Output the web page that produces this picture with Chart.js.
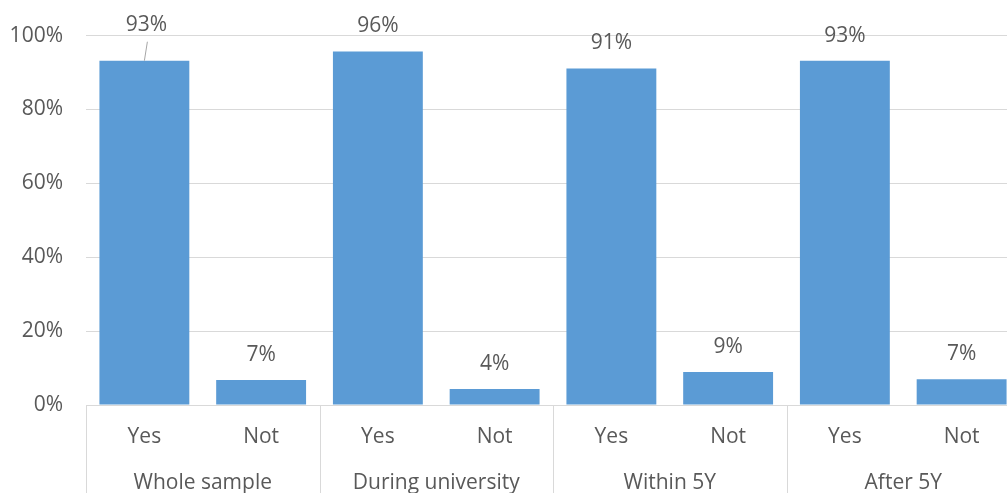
<!DOCTYPE html>
<html>
<head>
<meta charset="utf-8">
<script src="https://cdn.jsdelivr.net/npm/chart.js@4.4.1/dist/chart.umd.min.js"></script>
<style>
  html, body { margin: 0; padding: 0; background: #fff; overflow: hidden; }
  #wrap { width: 1020px; height: 493px; position: relative; }
</style>
</head>
<body>
<div id="wrap"><canvas id="chart"></canvas></div>
<script>
const groups = ['Whole sample', 'During university', 'Within 5Y', 'After 5Y'];
const answers = ['Yes', 'Not'];
const shares = [93.2, 6.8, 95.7, 4.3, 91.1, 8.9, 93.2, 7.0];
const yTicks = [0, 20, 40, 60, 80, 100];

const textColor = '#595959';
const lineColor = '#d9d9d9';
const barColor = '#5b9bd5';
const fontFamily = '"Open Sans", Lato, sans-serif';
const fontSize = 21;

const labels = groups.flatMap(() => answers);

// value labels, separators and group names
const excelDecor = {
    id: 'excelDecor',
    afterDatasetsDraw(chart, args, opts) {
        const { ctx, chartArea, scales } = chart;
        const meta = chart.getDatasetMeta(0);
        ctx.save();
        ctx.font = `${fontSize}px ${fontFamily}`;
        ctx.fillStyle = textColor;
        ctx.textAlign = 'center';
        ctx.textBaseline = 'middle';
        meta.data.forEach((bar, i) => {
            const shift = opts.shifts[i] || { dx: 0, dy: 0 };
            const lx = bar.x + shift.dx;
            const ly = bar.y - 25 + shift.dy;
            ctx.fillText(Math.round(shares[i]) + '%', lx, ly);
            if (shift.dy) {
                ctx.strokeStyle = '#a6a6a6';
                ctx.lineWidth = 1;
                ctx.beginPath();
                ctx.moveTo(lx + 1, ly + 17);
                ctx.lineTo(bar.x, bar.y);
                ctx.stroke();
            }
        });

        // group separators
        const x = scales.x;
        const half = (x.getPixelForValue(1) - x.getPixelForValue(0)) / 2;
        ctx.strokeStyle = lineColor;
        ctx.lineWidth = 1;
        for (let g = 0; g <= groups.length; g++) {
            const px = Math.round(x.getPixelForValue(g * answers.length) - half) + 0.5;
            ctx.beginPath();
            ctx.moveTo(px, chartArea.bottom);
            ctx.lineTo(px, chart.height);
            ctx.stroke();
        }
        groups.forEach((g, gi) => {
            const a = x.getPixelForValue(gi * answers.length);
            const b = x.getPixelForValue(gi * answers.length + answers.length - 1);
            ctx.fillText(g, (a + b) / 2, chartArea.bottom + 78);
        });
        ctx.restore();
    }
};

new Chart(document.getElementById('chart'), {
    type: 'bar',
    data: {
        labels: labels,
        datasets: [{
            data: shares,
            backgroundColor: barColor,
            barPercentage: 0.77,
            categoryPercentage: 1
        }]
    },
    options: {
        responsive: true,
        maintainAspectRatio: false,
        animation: false,
        layout: { padding: { top: 35, left: 0, right: 0, bottom: 0 } },
        plugins: {
            legend: { display: false },
            tooltip: { enabled: false },
            excelDecor: { shifts: { 0: { dx: 2, dy: -11 } } }
        },
        scales: {
            x: {
                grid: { display: false, drawTicks: false },
                border: { display: false },
                ticks: { color: textColor, font: { family: fontFamily, size: fontSize }, padding: 19, maxRotation: 0 },
                afterFit: s => { s.height = 88; }
            },
            y: {
                min: 0, max: 100,
                afterBuildTicks: s => { s.ticks = yTicks.map(v => ({ value: v })); },
                grid: { color: lineColor, lineWidth: 1, drawTicks: false },
                border: { display: false },
                ticks: { color: textColor, font: { family: fontFamily, size: fontSize }, padding: 23, callback: v => v + '%' },
                afterFit: s => { s.width = 86; }
            }
        }
    },
    plugins: [excelDecor]
});
</script>
</body>
</html>
